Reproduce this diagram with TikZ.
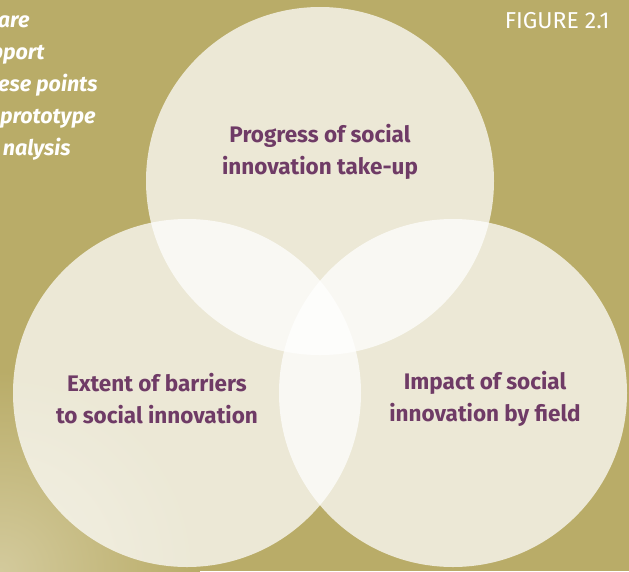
\documentclass[tikz,border=0pt]{standalone}
\usepackage{fontspec}
\setmainfont{Fira Sans}
\definecolor{olivebg}{HTML}{B9AC68}
\definecolor{olivelight}{HTML}{D3CA9C}
\definecolor{plum}{HTML}{6F3B66}

\begin{document}
\begin{tikzpicture}[x=1pt,y=-1pt,font=\fontsize{22.5}{32}\selectfont,
  blob/.style={fill=white,fill opacity=0.73},
  topic/.style={text=plum,font=\bfseries\fontsize{22.5}{32}\selectfont,align=center},
  aside/.style={text=white,font=\bfseries\itshape\fontsize{21.5}{32}\selectfont,anchor=base east}]

\useasboundingbox (0,0) rectangle (629,571);
\fill[olivebg] (0,0) rectangle (629,571);
\begin{scope}
\clip (0,0) rectangle (629,571);
\shade[inner color=olivelight,outer color=olivebg] (0,571) circle [radius=200pt];
\end{scope}

\coordinate (a) at (320,181);
\coordinate (b) at (187,393);
\coordinate (c) at (453,393);
\fill[blob] (a) circle [radius=174pt];
\fill[blob] (b) circle [radius=174pt];
\fill[blob] (c) circle [radius=174pt];

\node[topic] (progress) at (320,152) {Progress of social\\innovation take-up};
\node[topic] (barriers) at (157,399) {Extent of barriers\\to social innovation};
\node[topic] (impact) at (485,399) {Impact of social\\innovation by field};

\node[text=white,anchor=base east,font=\fontsize{23}{28}\selectfont] (fig) at (613,28) {FIGURE 2.1};

\node[aside] (l1) at (33,27) {are};
\node[aside] (l2) at (48,59) {pport};
\node[aside] (l3) at (101,91) {ese points};
\node[aside] (l4) at (99,123) {prototype};
\node[aside] (l5) at (74,155) {nalysis};

\end{tikzpicture}
\end{document}
